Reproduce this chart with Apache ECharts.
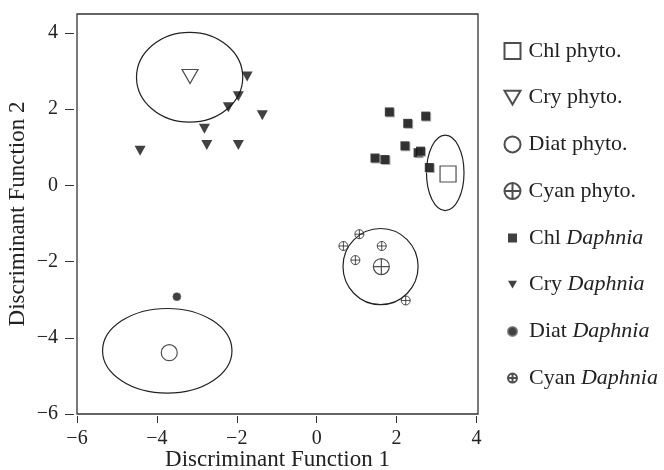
<!DOCTYPE html>
<html>
<head>
    <meta charset="utf-8">
    <title>Discriminant functions</title>
    <script src="https://cdn.jsdelivr.net/npm/echarts@6/dist/echarts.min.js"></script>
</head>
<body style="margin:0;background:#fff;">
    <div id="main" style="width:664px;height:470px;"></div>
    <script type="text/javascript">
        // group centroids (phytoplankton)
        var chlPhyto = [[3.29, 0.30]];
        var cryPhyto = [[-3.17, 2.86]];
        var diatPhyto = [[-3.69, -4.39]];
        var cyanPhyto = [[1.62, -2.13]];
        // Daphnia samples
        var chlDaphnia = [[1.82, 1.93], [2.73, 1.82], [2.28, 1.63], [2.21, 1.04], [2.54, 0.86],
            [2.60, 0.90], [1.46, 0.72], [1.71, 0.68], [2.82, 0.47]];
        var cryDaphnia = [[-1.74, 2.86], [-1.96, 2.34], [-2.21, 2.05], [-2.81, 1.49], [-2.75, 1.06],
            [-1.96, 1.06], [-4.42, 0.91], [-1.36, 1.84]];
        var diatDaphnia = [[-3.50, -2.92]];
        var cyanDaphnia = [[1.07, -1.28], [0.67, -1.59], [1.63, -1.59], [0.97, -1.96], [2.23, -3.02]];
        // ellipses: cx, cy, rx, ry
        var ellipses = [[3.22, 0.33, 0.47, 0.99], [-3.18, 2.84, 1.33, 1.18],
            [-3.74, -4.34, 1.62, 1.11], [1.60, -2.13, 0.94, 1.00]];
        var xTicks = [-6, -4, -2, 0, 2, 4];
        var yTicks = [-6, -4, -2, 0, 2, 4];

        var ink = '#222';
        var font = "'Liberation Serif', 'Times New Roman', serif";
        var downTri = 'path://M0,0 L20,0 L10,17.3 Z';
        var crossCircle = 'path://M0,10 A10,10 0 1,1 20,10 A10,10 0 1,1 0,10 Z M10,0 L10,20 M0,10 L20,10';

        var myChart = echarts.init(document.getElementById('main'));

        function openStyle() {
            return { color: '#fff', borderColor: ink, borderWidth: 1.2 };
        }

        var option = {
            animation: false,
            backgroundColor: '#fff',
            textStyle: { fontFamily: font, color: ink },
            grid: {
                left: 77, right: 186, top: 14, bottom: 56,
                outerBoundsMode: 'none',
                show: true, borderColor: '#333', borderWidth: 1.3
            },
            legend: [{
                orient: 'vertical',
                left: 497, top: 35,
                itemWidth: 16, itemHeight: 16, itemGap: 24.7,
                selectedMode: false,
                textStyle: { fontFamily: font, fontSize: 22, color: ink, padding: [0, 0, 0, 3] },
                data: ['Chl phyto.', 'Cry phyto.', 'Diat phyto.', 'Cyan phyto.']
            }, {
                orient: 'vertical',
                left: 500.5, top: 222,
                itemWidth: 9, itemHeight: 9, itemGap: 24.7,
                selectedMode: false,
                formatter: function (name) {
                    var p = name.split(' ');
                    return p[0] + ' {i|' + p[1] + '}';
                },
                textStyle: {
                    fontFamily: font, fontSize: 22, color: ink, padding: [0, 0, 0, 7],
                    rich: { i: { fontFamily: font, fontSize: 22, fontStyle: 'italic', color: ink } }
                },
                data: ['Chl Daphnia', 'Cry Daphnia', 'Diat Daphnia', 'Cyan Daphnia']
            }],
            xAxis: {
                type: 'value', min: -6, max: 4.04, offset: 2,
                name: 'Discriminant Function 1', nameLocation: 'middle', nameGap: 32,
                nameMoveOverlap: false,
                nameTextStyle: { fontFamily: font, fontSize: 23, color: ink },
                axisLine: { show: false, onZero: false },
                axisTick: { show: true, length: 7, customValues: xTicks, lineStyle: { color: '#333' } },
                axisLabel: {
                    customValues: xTicks, margin: 13, fontFamily: font, fontSize: 20, color: ink,
                    formatter: function (v) { return String(v).replace('-', '\u2212'); }
                },
                splitLine: { show: false }
            },
            yAxis: {
                type: 'value', min: -6, max: 4.5, offset: 3,
                name: 'Discriminant Function 2', nameLocation: 'middle', nameGap: 45,
                nameMoveOverlap: false,
                nameTextStyle: { fontFamily: font, fontSize: 23, color: ink },
                axisLine: { show: false, onZero: false },
                axisTick: { show: true, length: 9, customValues: yTicks, lineStyle: { color: '#333' } },
                axisLabel: {
                    customValues: yTicks, margin: 16, fontFamily: font, fontSize: 20, color: ink,
                    formatter: function (v) { return String(v).replace('-', '\u2212'); }
                },
                splitLine: { show: false }
            },
            series: [{
                type: 'custom',
                silent: true,
                z: 1,
                data: ellipses,
                encode: { x: 0, y: 1 },
                renderItem: function (params, api) {
                    var c = api.coord([api.value(0), api.value(1)]);
                    var s = api.size([api.value(2), api.value(3)]);
                    return {
                        type: 'ellipse',
                        shape: { cx: c[0], cy: c[1], rx: s[0], ry: s[1] },
                        style: { fill: 'none', stroke: ink, lineWidth: 1.2 }
                    };
                }
            }, {
                name: 'Chl phyto.', type: 'scatter', z: 3, symbol: 'rect', symbolSize: 16,
                itemStyle: openStyle(), data: chlPhyto
            }, {
                name: 'Cry phyto.', type: 'scatter', z: 3, symbol: downTri, symbolSize: [16, 14],
                itemStyle: openStyle(), data: cryPhyto
            }, {
                name: 'Diat phyto.', type: 'scatter', z: 3, symbol: 'circle', symbolSize: 16,
                itemStyle: openStyle(), data: diatPhyto
            }, {
                name: 'Cyan phyto.', type: 'scatter', z: 3, symbol: crossCircle, symbolSize: 16,
                itemStyle: { color: 'none', borderColor: ink, borderWidth: 1.2 }, data: cyanPhyto
            }, {
                name: 'Chl Daphnia', type: 'scatter', z: 2, symbol: 'rect', symbolSize: 9,
                itemStyle: { color: '#111', shadowColor: '#999', shadowOffsetX: 1, shadowOffsetY: 1 },
                data: chlDaphnia
            }, {
                name: 'Cry Daphnia', type: 'scatter', z: 2, symbol: downTri, symbolSize: [11, 10],
                itemStyle: { color: '#111' }, data: cryDaphnia
            }, {
                name: 'Diat Daphnia', type: 'scatter', z: 2, symbol: 'circle', symbolSize: 8,
                itemStyle: { color: '#111', borderColor: '#666', borderWidth: 0.8 }, data: diatDaphnia
            }, {
                name: 'Cyan Daphnia', type: 'scatter', z: 2, symbol: crossCircle, symbolSize: 9,
                itemStyle: { color: 'none', borderColor: ink, borderWidth: 1 }, data: cyanDaphnia
            }]
        };

        myChart.setOption(option);
        window.onresize = myChart.resize;
    </script>
</body>
</html>
